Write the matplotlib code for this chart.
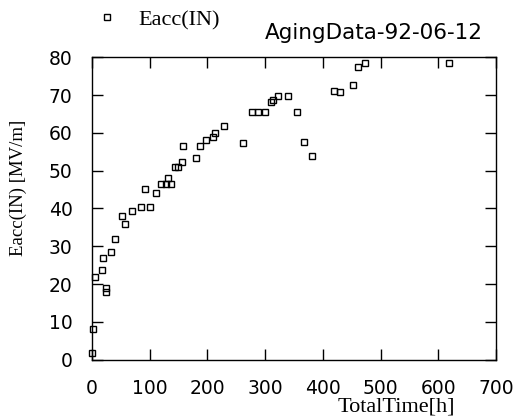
import matplotlib
matplotlib.use("Agg")
import matplotlib.pyplot as plt

# Data
total_time = [0, 1.8, 4.7, 17.4, 19.7, 24.3, 24.3, 33, 40, 51.6,
              56.8, 70, 84.4, 91.3, 100, 111.6, 120.2, 129, 131.7, 137.6,
              143.3, 149.7, 156, 158.4, 179.7, 186.7, 198.2, 209.7, 213.8, 229,
              262, 276.8, 288.3, 299.9, 309.7, 314.4, 322.5, 339.7, 355.9, 368,
              381.5, 418.5, 430, 453, 461.6, 473.7, 618.5]
eacc_in = [1.6, 8.0, 21.9, 23.7, 27.0, 18.9, 17.9, 28.4, 32.0, 38.1,
           35.9, 39.4, 40.3, 45.1, 40.3, 44.0, 46.5, 46.5, 48.2, 46.5,
           51.0, 51.0, 52.2, 56.6, 53.5, 56.6, 58.1, 59.0, 59.9, 61.9,
           57.3, 65.5, 65.5, 65.5, 68.1, 68.7, 69.9, 69.7, 65.5, 57.6,
           53.9, 71.1, 70.8, 72.8, 77.6, 78.6, 78.6]
x_ticks = [0, 100, 200, 300, 400, 500, 600, 700]
y_ticks = [0, 10, 20, 30, 40, 50, 60, 70, 80]
series_label = "Eacc(IN)"
title_text = "AgingData-92-06-12"
x_label = "TotalTime[h]"
y_label = "Eacc(IN) [MV/m]"

W, H = 514, 417
fig = plt.figure(figsize=(W / 100, H / 100), dpi=100)
ax = fig.add_axes([92 / W, 1 - 359.5 / H, 404 / W, 302 / H])

ax.plot(total_time, eacc_in, linestyle="none", marker="s", markersize=5,
        markerfacecolor="none", markeredgecolor="black", markeredgewidth=1.0,
        clip_on=False, label=series_label)

ax.set_xlim(0, 700)
ax.set_ylim(0, 80)
ax.set_xticks(x_ticks)
ax.set_yticks(y_ticks)
ax.tick_params(direction="in", length=8, width=1, top=True, right=True,
               labelsize=13.5, pad=14, colors="black")
for lab in ax.get_xticklabels() + ax.get_yticklabels():
    lab.set_family("DejaVu Sans")
for s in ax.spines.values():
    s.set_linewidth(1.0)

serif = "Liberation Serif"
fig.text(18 / W, 1 - 187.5 / H, y_label, rotation=90, ha="center", va="center",
         family=serif, fontsize=13.5)
fig.text(396 / W, 1 - 407 / H, x_label, ha="center", va="center",
         family=serif, fontsize=16)
fig.text(265 / W, 1 - 33 / H, title_text, ha="left", va="center",
         family="DejaVu Sans", fontsize=15.5)

fig.legend(loc="center left", bbox_to_anchor=(97 / W, 1 - 20 / H),
           frameon=False, borderpad=0, borderaxespad=0, handlelength=0.9,
           handletextpad=0.95, markerscale=0.85,
           prop={"family": serif, "size": 16})

fig.savefig("out.png", dpi=100)
